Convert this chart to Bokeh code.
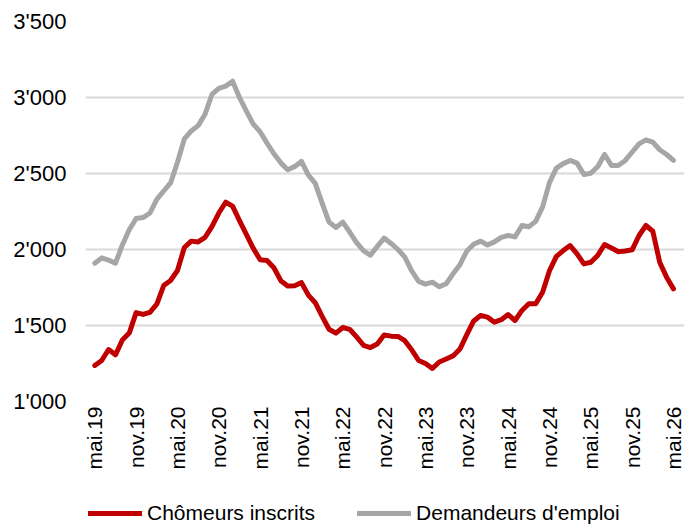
import math
from bokeh.plotting import figure
from bokeh.layouts import column
from bokeh.models import Range1d, FixedTicker, Legend, LegendItem, ColumnDataSource
from bokeh.embed import file_html
from bokeh.resources import INLINE

tick_labels = ["mai.19", "nov.19", "mai.20", "nov.20", "mai.21", "nov.21", "mai.22",
               "nov.22", "mai.23", "nov.23", "mai.24", "nov.24", "mai.25", "nov.25", "mai.26"]

chomeurs = [
    1237, 1270, 1342, 1307, 1405, 1450, 1585, 1573, 1587, 1640,
    1763, 1796, 1862, 2013, 2055, 2050, 2080, 2150, 2240, 2311,
    2285, 2190, 2100, 2008, 1932, 1928, 1880, 1795, 1760, 1762,
    1782, 1700, 1650, 1560, 1475, 1450, 1487, 1475, 1425, 1370,
    1355, 1378, 1438, 1430, 1428, 1400, 1340, 1270, 1250, 1217,
    1260, 1280, 1300, 1345, 1440, 1530, 1566, 1555, 1522, 1538,
    1572, 1533, 1599, 1643, 1643, 1719, 1860, 1955, 1993, 2026,
    1971, 1905, 1916, 1961, 2033, 2010, 1985, 1990, 1998, 2092,
    2158, 2120, 1916, 1818, 1741,
]

demandeurs = [
    1910, 1945, 1930, 1910, 2030, 2130, 2204, 2210, 2240, 2330,
    2385, 2438, 2574, 2728, 2780, 2815, 2890, 3020, 3060, 3075,
    3107, 3000, 2910, 2825, 2775, 2700, 2630, 2570, 2525, 2545,
    2580, 2490, 2435, 2305, 2180, 2145, 2180, 2115, 2045, 1992,
    1962, 2020, 2075, 2040, 2000, 1950, 1860, 1790, 1772, 1785,
    1755, 1775, 1840, 1900, 1990, 2035, 2055, 2030, 2050, 2080,
    2092, 2083, 2158, 2150, 2185, 2280, 2440, 2535, 2565, 2586,
    2568, 2493, 2502, 2545, 2625, 2553, 2553, 2586, 2640, 2695,
    2721, 2706, 2656, 2625, 2586,
]

y_ticks = [1000, 1500, 2000, 2500, 3000, 3500]
y_tick_labels = ["1'000", "1'500", "2'000", "2'500", "3'000", "3'500"]

series_names = ["Chômeurs inscrits", "Demandeurs d'emploi"]
series_colors = ["#C00000", "#A6A6A6"]

x = list(range(len(chomeurs)))
x_ticks = [i * 6 for i in range(len(tick_labels))]

src = ColumnDataSource(dict(x=x, chom=chomeurs, dem=demandeurs))

FONT = "Liberation Sans"

p = figure(width=694, height=476, output_backend="svg", toolbar_location=None,
           x_range=Range1d(-1.35, 85.6), y_range=Range1d(1000, 3500),
           min_border_left=85, min_border_right=10, min_border_top=21,
           min_border_bottom=75)
p.outline_line_color = None
p.background_fill_color = "white"
p.border_fill_color = "white"

p.line("x", "dem", source=src, line_color=series_colors[1], line_width=5,
       line_join="round", line_cap="round")
p.line("x", "chom", source=src, line_color=series_colors[0], line_width=5,
       line_join="round", line_cap="round")

p.xgrid.visible = False
p.ygrid.ticker = FixedTicker(ticks=y_ticks)
p.ygrid.grid_line_color = "#D9D9D9"
p.ygrid.grid_line_width = 2

ya = p.yaxis[0]
ya.ticker = FixedTicker(ticks=y_ticks)
ya.major_label_overrides = dict(zip(y_ticks, y_tick_labels))
ya.axis_line_color = None
ya.major_tick_line_color = None
ya.minor_tick_line_color = None
ya.major_tick_out = 0
ya.major_tick_in = 0
ya.major_label_standoff = 19
ya.major_label_text_font = FONT
ya.major_label_text_font_size = "22px"
ya.major_label_text_color = "#000000"

xa = p.xaxis[0]
xa.ticker = FixedTicker(ticks=x_ticks)
xa.major_label_overrides = dict(zip(x_ticks, tick_labels))
xa.axis_line_color = None
xa.major_tick_line_color = None
xa.minor_tick_line_color = None
xa.major_tick_out = 0
xa.major_tick_in = 0
xa.major_label_standoff = 5
xa.major_label_orientation = math.pi / 2
xa.major_label_text_font = FONT
xa.major_label_text_font_size = "21px"
xa.major_label_text_color = "#000000"

# legend strip below the chart (series drawn out of view; only the legend shows)
lg = figure(width=694, height=48, output_backend="svg", toolbar_location=None,
            x_axis_type=None, y_axis_type=None,
            x_range=Range1d(-1.35, 85.6), y_range=Range1d(0, 1),
            min_border_left=85, min_border_right=10, min_border_top=0,
            min_border_bottom=0)
lg.outline_line_color = None
lg.grid.visible = False
lg_chom = lg.line("x", "chom", source=src, line_color=series_colors[0], line_width=5,
                  line_cap="round")
lg_dem = lg.line("x", "dem", source=src, line_color=series_colors[1], line_width=5,
                 line_cap="round")

legend = Legend(items=[LegendItem(label=series_names[0], renderers=[lg_chom]),
                       LegendItem(label=series_names[1], renderers=[lg_dem])],
                orientation="horizontal", location=(3, -1),
                border_line_color=None, background_fill_alpha=0,
                padding=0, margin=0, spacing=42, glyph_width=54, glyph_height=20,
                label_standoff=5, label_height=20,
                label_text_font=FONT, label_text_font_size="21px",
                label_text_color="#000000")
lg.add_layout(legend)

layout = column(p, lg, spacing=0)

open("out.html", "w").write(file_html(layout, INLINE))
